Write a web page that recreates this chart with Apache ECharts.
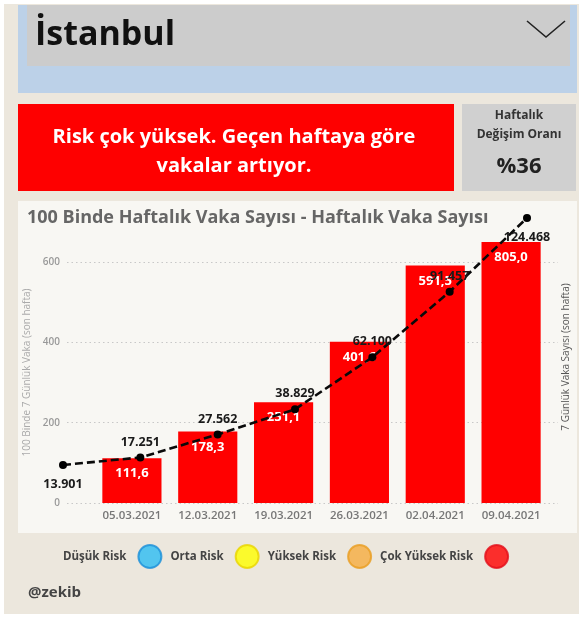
<!DOCTYPE html>
<html>
<head>
<meta charset="utf-8">
<script src="https://cdn.jsdelivr.net/npm/echarts@6/dist/echarts.min.js"></script>
<style>
html,body{margin:0;padding:0;background:#ffffff;}
#c{width:582px;height:617px;}
</style>
</head>
<body>
<div id="c"></div>
<script>
// ---- data ----
const categories = ['05.03.2021', '12.03.2021', '19.03.2021', '26.03.2021', '02.04.2021', '09.04.2021'];
const lineCategories = ['26.02.2021', '05.03.2021', '12.03.2021', '19.03.2021', '26.03.2021', '02.04.2021', '09.04.2021'];
const incidencePer100k = [111.6, 178.3, 251.1, 401.6, 591.5, 805.0];
const weeklyCases = [13901, 17251, 27562, 38829, 62100, 91457, 124468];
const leftAxisMax = 650;
const leftAxisInterval = 200;
const riskLevels = ['Düşük Risk', 'Orta Risk', 'Yüksek Risk', 'Çok Yüksek Risk'];
const riskColors = ['#2cbdf4', '#ffff00', '#f6ad40', '#ff0000'];
const riskBorders = ['#1b8fd8', '#e9d400', '#e89d22', '#e2101c'];
const cityName = 'İstanbul';
const alertLines = ['Risk çok yüksek. Geçen haftaya göre', 'vakalar artıyor.'];
const changeLabel = ['Haftalık', 'Değişim Oranı'];
const changeValue = '%36';
const chartTitle = '100 Binde Haftalık Vaka Sayısı - Haftalık Vaka Sayısı';
const author = '@zekib';

const FONT = '"Open Sans", "Noto Sans", sans-serif';
const fmtDec = v => v.toFixed(1).replace('.', ',');
const fmtThousands = v => String(v).replace(/\B(?=(\d{3})+(?!\d))/g, '.');

const chart = echarts.init(document.getElementById('c'));

const lastIdx = weeklyCases.length - 1;
const lineData = weeklyCases.map((v, i) => ({
  value: v,
  label: { position: (i === 0 || i === lastIdx) ? 'bottom' : 'top', distance: (i === 0 || i === lastIdx) ? 9 : 5 }
}));

const legendSeries = riskLevels.map((name, i) => ({
  name: name,
  type: 'scatter',
  xAxisIndex: 0, yAxisIndex: 0,
  data: [],
  itemStyle: { color: riskColors[i], borderColor: riskBorders[i], borderWidth: 2 }
}));

const option = {
  animation: false,
  backgroundColor: '#ffffff',
  textStyle: { fontFamily: FONT },
  graphic: [
    { type: 'rect', z: -10, shape: { x: 4, y: 4, width: 575, height: 610 }, style: { fill: '#ece7dd' } },
    { type: 'rect', z: -9, shape: { x: 18, y: 5, width: 559, height: 88 }, style: { fill: '#bcd1e8' } },
    { type: 'rect', z: -8, shape: { x: 27, y: 5, width: 543, height: 61 }, style: { fill: '#cccccc' } },
    { type: 'text', z: 5, style: { x: 35, y: 35, text: cityName, fill: '#111', font: 'bold 34px ' + FONT, verticalAlign: 'middle' } },
    { type: 'polyline', z: 5, shape: { points: [[527, 21], [546, 37], [565, 21]] }, style: { stroke: '#222', lineWidth: 1.6, fill: null } },
    { type: 'rect', z: -8, shape: { x: 18, y: 104, width: 436, height: 87 }, style: { fill: '#fe0000' } },
    { type: 'text', z: 5, style: { x: 234, y: 137, text: alertLines[0], fill: '#ffffff', font: 'bold 20px ' + FONT, align: 'center', verticalAlign: 'middle' } },
    { type: 'text', z: 5, style: { x: 234, y: 166, text: alertLines[1], fill: '#ffffff', font: 'bold 20px ' + FONT, align: 'center', verticalAlign: 'middle' } },
    { type: 'rect', z: -8, shape: { x: 462, y: 104, width: 114, height: 87 }, style: { fill: '#d0d0d0' } },
    { type: 'text', z: 5, style: { x: 519, y: 116, text: changeLabel[0], fill: '#333333', font: 'bold 12px ' + FONT, align: 'center', verticalAlign: 'middle' } },
    { type: 'text', z: 5, style: { x: 519, y: 135, text: changeLabel[1], fill: '#333333', font: 'bold 12px ' + FONT, align: 'center', verticalAlign: 'middle' } },
    { type: 'text', z: 5, style: { x: 519, y: 167, text: changeValue, fill: '#222', font: 'bold 22px ' + FONT, align: 'center', verticalAlign: 'middle' } },
    { type: 'rect', z: -8, shape: { x: 18, y: 201, width: 559, height: 332 }, style: { fill: '#f8f7f3' } },
    { type: 'text', z: 5, style: { x: 27, y: 218, text: chartTitle, fill: '#666666', font: 'bold 18px ' + FONT, verticalAlign: 'middle' } },
    { type: 'text', z: 5, style: { x: 28, y: 593, text: author, fill: '#444', font: 'bold 15px ' + FONT, verticalAlign: 'middle' } }
  ],
  legend: {
    data: riskLevels,
    left: 58, top: 539,
    icon: 'circle',
    itemWidth: 23, itemHeight: 23,
    itemGap: 8,
    align: 'right',
    selectedMode: false,
    textStyle: { fontFamily: FONT, fontSize: 11.5, fontWeight: 'bold', color: '#444', padding: [0, 7, 0, 0] }
  },
  grid: [
    { left: 67, right: 24, top: 242, bottom: 114 },
    { left: 94, right: 33, top: 242, bottom: 114 },
    { left: 63, right: 55, top: 218, bottom: 121 }
  ],
  xAxis: [
    { gridIndex: 0, type: 'value', show: false, min: 0, max: 1 },
    {
      gridIndex: 1, type: 'category', data: categories,
      axisLine: { show: false }, axisTick: { show: false },
      axisLabel: { interval: 0, margin: 7, color: '#777777', fontSize: 11.5, fontWeight: 600, fontFamily: FONT }
    },
    { gridIndex: 2, type: 'category', data: lineCategories, boundaryGap: false, show: false }
  ],
  yAxis: [
    {
      gridIndex: 0, type: 'value', min: 0, max: leftAxisMax, interval: leftAxisInterval,
      name: '100 Binde 7 Günlük Vaka (son hafta)', nameLocation: 'middle', nameGap: 30,
      nameTextStyle: { color: '#aaaaaa', fontSize: 10, fontFamily: FONT },
      axisLine: { show: false }, axisTick: { show: false },
      axisLabel: { margin: 7, color: '#999999', fontSize: 10, fontWeight: 600, fontFamily: FONT, showMaxLabel: false,
        formatter: v => (v % leftAxisInterval === 0 ? String(v) : '') },
      splitLine: { show: true, showMaxLine: false, lineStyle: { color: '#c8c8c8', type: [1.5, 3], width: 1.2 } }
    },
    { gridIndex: 1, type: 'value', min: 0, max: leftAxisMax, show: false, splitLine: { show: false } },
    {
      gridIndex: 2, type: 'value', position: 'right', min: 0, max: 'dataMax',
      name: '7 Günlük Vaka Sayısı (son hafta)', nameLocation: 'middle', nameGap: 34, nameRotate: 90,
      nameTextStyle: { color: '#555555', fontSize: 10, fontFamily: FONT },
      axisLine: { show: false }, axisTick: { show: false }, axisLabel: { show: false },
      splitLine: { show: false }
    }
  ],
  series: [
    {
      name: '100 Binde Haftalık Vaka Sayısı',
      type: 'bar', xAxisIndex: 1, yAxisIndex: 1,
      data: incidencePer100k,
      barWidth: '78%',
      clip: true,
      itemStyle: { color: '#ff0000' },
      label: { show: true, position: 'insideTop', distance: 9, color: '#ffffff', fontSize: 13, fontWeight: 'bold', fontFamily: FONT,
        formatter: p => fmtDec(p.value) },
      z: 2
    },
    {
      name: 'Haftalık Vaka Sayısı',
      type: 'line', xAxisIndex: 2, yAxisIndex: 2,
      data: lineData,
      symbol: 'circle', symbolSize: 8,
      itemStyle: { color: '#000000' },
      lineStyle: { color: '#0a0a0a', width: 2.6, type: [8, 4] },
      label: { show: true, color: '#1a1a1a', fontSize: 12.5, fontWeight: 'bold', fontFamily: FONT,
        formatter: p => fmtThousands(p.value) },
      z: 4
    }
  ].concat(legendSeries)
};
chart.setOption(option);
</script>
</body>
</html>
